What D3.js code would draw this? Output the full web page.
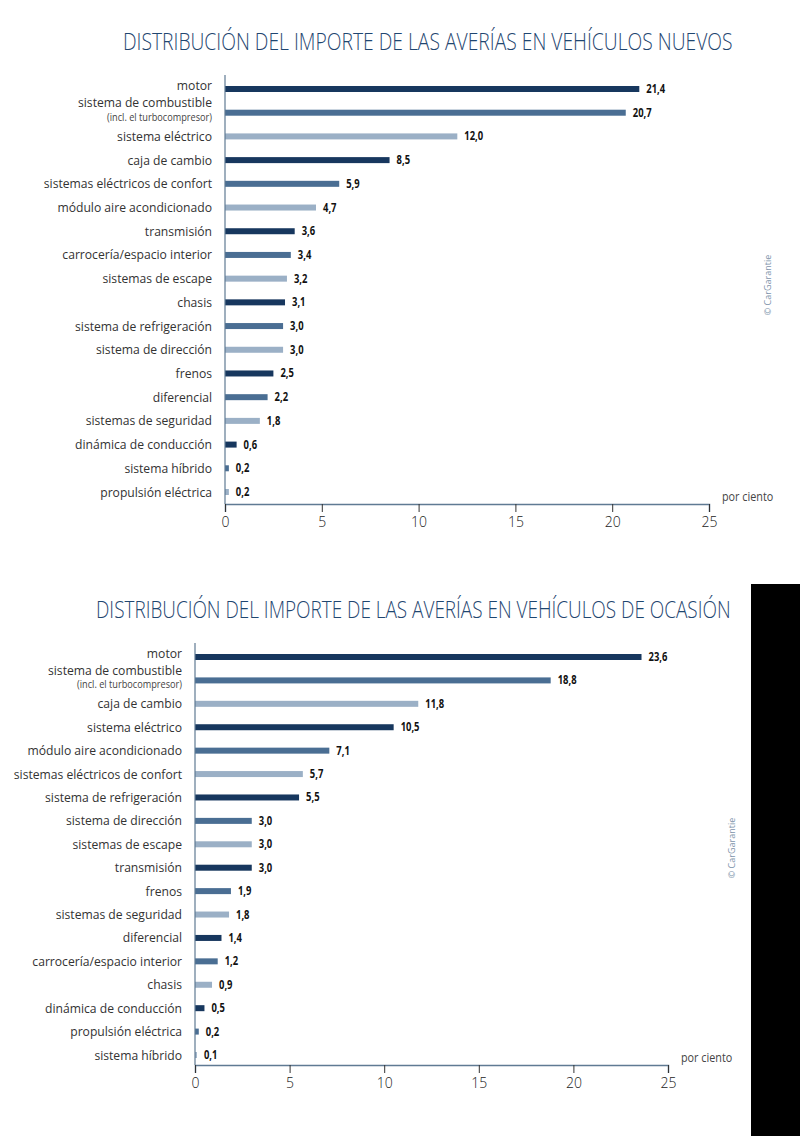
<!DOCTYPE html>
<html><head><meta charset="utf-8">
<script src="https://cdn.jsdelivr.net/npm/d3@7"></script>
<style>
body{margin:0;background:#fff;}
svg{display:block;}
</style></head>
<body>
<svg id="c" width="800" height="1136"></svg>
<script>
const categoriesNew = ["motor","sistema de combustible","sistema eléctrico","caja de cambio","sistemas eléctricos de confort","módulo aire acondicionado","transmisión","carrocería/espacio interior","sistemas de escape","chasis","sistema de refrigeración","sistema de dirección","frenos","diferencial","sistemas de seguridad","dinámica de conducción","sistema híbrido","propulsión eléctrica"];
const valuesNew = [21.4,20.7,12.0,8.5,5.9,4.7,3.6,3.4,3.2,3.1,3.0,3.0,2.5,2.2,1.8,0.6,0.2,0.2];
const categoriesUsed = ["motor","sistema de combustible","caja de cambio","sistema eléctrico","módulo aire acondicionado","sistemas eléctricos de confort","sistema de refrigeración","sistema de dirección","sistemas de escape","transmisión","frenos","sistemas de seguridad","diferencial","carrocería/espacio interior","chasis","dinámica de conducción","propulsión eléctrica","sistema híbrido"];
const valuesUsed = [23.6,18.8,11.8,10.5,7.1,5.7,5.5,3.0,3.0,3.0,1.9,1.8,1.4,1.2,0.9,0.5,0.2,0.1];
const tickValues = [0,5,10,15,20,25];
const titleNew = "DISTRIBUCIÓN DEL IMPORTE DE LAS AVERÍAS EN VEHÍCULOS NUEVOS";
const titleUsed = "DISTRIBUCIÓN DEL IMPORTE DE LAS AVERÍAS EN VEHÍCULOS DE OCASIÓN";
const subNote = "(incl. el turbocompresor)";
const unitLabel = "por ciento";
const credit = "© CarGarantie";

const colors = ["#17375e","#4a6e93","#9bb0c6"];
const svg = d3.select("#c");
const fontMain = "'Open Sans',sans-serif";

// black block at right
svg.append("rect").attr("x",751).attr("y",584).attr("width",49).attr("height",552).attr("fill","#000");

function narrowText(g,x,y,sx,txt,size,opts){
  opts = opts||{};
  return g.append("text").attr("transform",`translate(${x},${y}) scale(${sx},1)`)
    .attr("text-anchor",opts.anchor||"start")
    .attr("font-family",fontMain).attr("font-size",size)
    .attr("font-weight",opts.weight||"normal")
    .attr("fill",opts.fill||"#333").text(txt);
}

function drawChart(cfg){
  const g = svg.append("g");
  const t = g.append("text")
    .attr("font-family",fontMain).attr("font-weight",300).attr("font-size",23.5).attr("fill","#1f4670")
    .text(cfg.title);
  const w = t.node().getComputedTextLength();
  t.attr("transform",`translate(${cfg.titleX},${cfg.titleY}) scale(${cfg.titleW/w},1)`);

  const x = d3.scaleLinear().domain([0,25]).range([cfg.x0,cfg.x1]);
  const y = d3.scalePoint().domain(cfg.cats).range([cfg.yTop,cfg.yBot]);

  // bars
  g.selectAll("rect.bar").data(cfg.vals).join("rect")
    .attr("x",x(0)).attr("y",(d,i)=>y(cfg.cats[i])-3)
    .attr("width",d=>x(d)-x(0)).attr("height",6)
    .attr("fill",(d,i)=>colors[i%3]);

  // value labels
  cfg.vals.forEach((d,i)=>{
    narrowText(g,x(d)+7,y(cfg.cats[i])+4,0.82,d.toFixed(1).replace(".",","),11.5,{weight:"bold",fill:"#111"});
  });

  // category labels
  cfg.cats.forEach((c,i)=>{
    const yy = y(c);
    if(c==="sistema de combustible"){
      narrowText(g,cfg.x0-13,yy-5.5,0.9,c,13.5,{anchor:"end"});
      narrowText(g,cfg.x0-13,yy+8,0.9,subNote,10.2,{anchor:"end",fill:"#444"});
    } else if(c==="motor"){
      narrowText(g,cfg.x0-13,yy+0.5,0.9,c,13.5,{anchor:"end"});
    } else {
      narrowText(g,cfg.x0-13,yy+4.5,0.9,c,13.5,{anchor:"end"});
    }
  });

  // vertical axis line
  g.append("line").attr("x1",x(0)).attr("x2",x(0)).attr("y1",cfg.yTop-14).attr("y2",cfg.axisY)
    .attr("stroke","#5f7a93").attr("stroke-width",1.2);

  // x axis
  const ax = g.append("g").attr("transform",`translate(0,${cfg.axisY})`)
    .call(d3.axisBottom(x).tickValues(tickValues).tickSize(8).tickPadding(5).tickFormat(d3.format("d")));
  ax.select(".domain").attr("stroke","#5f7a93").attr("stroke-width",1.5);
  ax.selectAll(".tick line").attr("stroke","#333");
  ax.selectAll(".tick text").attr("font-family",fontMain).attr("font-weight",300).attr("font-size",14).attr("fill","#222");

  narrowText(g,cfg.x1+13,cfg.axisY-3,0.9,unitLabel,12,{fill:"#444"});

  g.append("text").attr("transform",`translate(${cfg.creditX},${cfg.creditY}) rotate(-90)`)
    .attr("text-anchor","middle").attr("font-family",fontMain).attr("font-size",9).attr("fill","#7d93aa")
    .text(credit);
}

drawChart({title:titleNew,titleX:123,titleY:50,titleW:610,cats:categoriesNew,vals:valuesNew,
  x0:225,x1:709,yTop:89,yBot:492,axisY:504,creditX:771,creditY:285});
drawChart({title:titleUsed,titleX:96,titleY:618,titleW:635,cats:categoriesUsed,vals:valuesUsed,
  x0:195,x1:668,yTop:657,yBot:1055,axisY:1065,creditX:735,creditY:848});
</script>
</body></html>
